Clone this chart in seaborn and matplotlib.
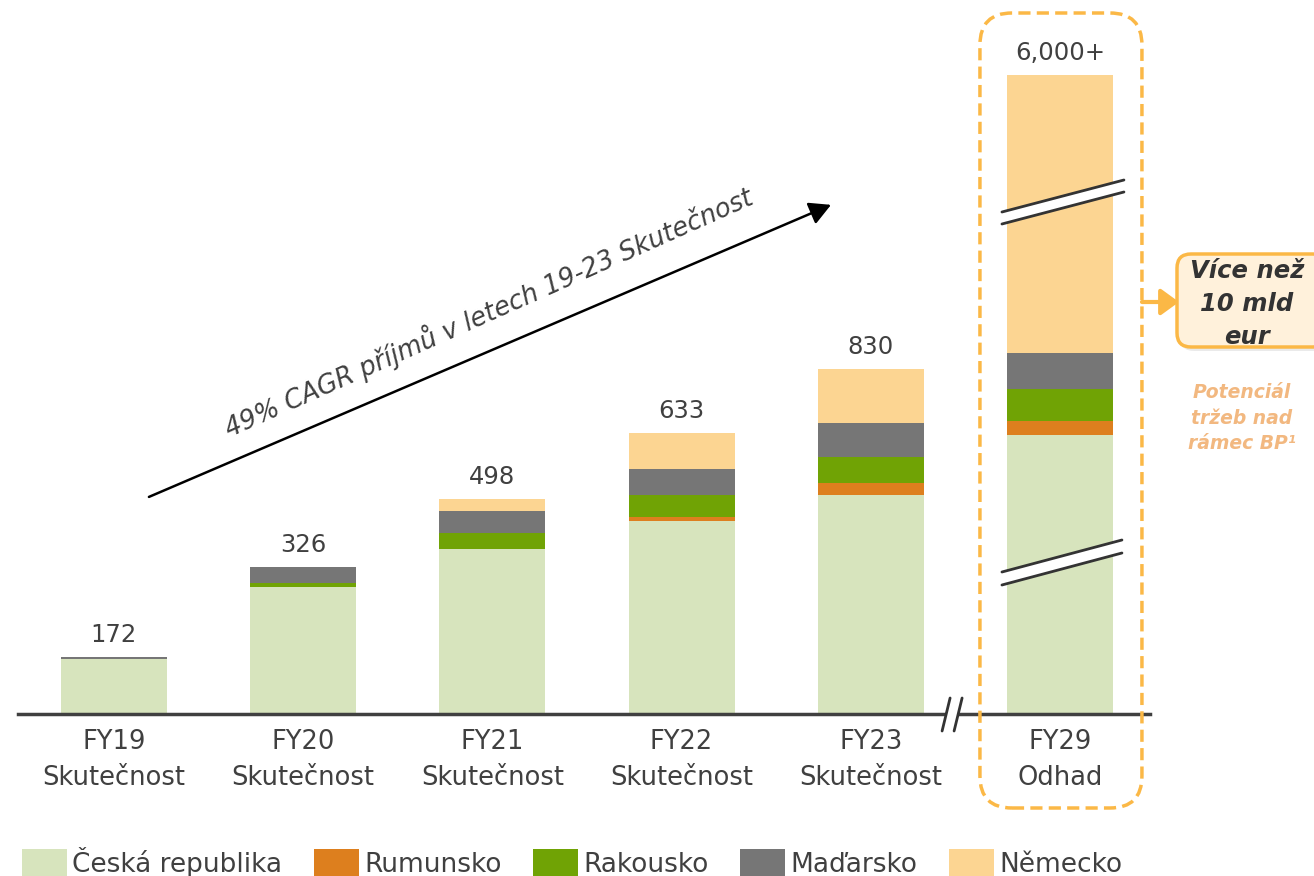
import matplotlib
matplotlib.use('Agg')
import matplotlib.pyplot as plt
import seaborn as sns
import pandas as pd
from matplotlib.patches import FancyBboxPatch, Polygon, Patch, FancyArrowPatch
from matplotlib.lines import Line2D
from matplotlib.transforms import IdentityTransform

# data (stack heights; FY29 sits on a broken axis)
years = ['FY19', 'FY20', 'FY21', 'FY22', 'FY23', 'FY29']
status = ['Skutečnost', 'Skutečnost', 'Skutečnost', 'Skutečnost', 'Skutečnost', 'Odhad']
totals_text = ['172', '326', '498', '633', '830', '6,000+']
regions = ['Česká republika', 'Rumunsko', 'Rakousko', 'Maďarsko', 'Německo']
cz = [132, 305, 396, 463, 526, 670]
ro = [0, 0, 0, 10, 29, 34]
at = [0, 10, 38, 53, 62, 77]
hu = [5, 38, 53, 62, 82, 86]
de = [0, 0, 29, 86, 130, 667]
colors = ['#D7E4BD', '#DD7F1E', '#70A305', '#767676', '#FCD592']

TXT = '#404040'
ORANGE = '#FBB846'
W, H = 1314, 876

sns.set_theme(style='white')
plt.rcParams['font.family'] = ['DejaVu Sans']

df = pd.DataFrame({'year': years, regions[0]: cz, regions[1]: ro,
                   regions[2]: at, regions[3]: hu, regions[4]: de})
cum = df[regions].cumsum(axis=1)
cum['year'] = df['year']

fig = plt.figure(figsize=(W / 100, H / 100), dpi=100)
ax = fig.add_axes([18 / W, 1 - 714 / H, 1132 / W, 714 / H])

# stacked bars: draw cumulative totals from the top layer down
for i in reversed(range(len(regions))):
    sns.barplot(data=cum, x='year', y=regions[i], order=years, color=colors[i],
                saturation=1, width=0.56, linewidth=0, errorbar=None, ax=ax)

ax.set_xlim(-0.507, 5.476)
ax.set_ylim(0, 1713.6)
sns.despine(ax=ax, left=True)
ax.spines['bottom'].set_color(TXT)
ax.spines['bottom'].set_linewidth(2.5)
ax.set_yticks([])
ax.set_xlabel('')
ax.set_ylabel('')
ax.set_xticks(range(len(years)))
ax.set_xticklabels([f'{y}\n{s}' for y, s in zip(years, status)],
                   fontsize=18.5, color=TXT, linespacing=1.5)
ax.tick_params(axis='x', length=0, pad=11)

# totals above bars
for i, t in enumerate(totals_text):
    ax.annotate(t, (i, cum[regions[-1]][i]), xytext=(0, 7), textcoords='offset points',
                ha='center', va='bottom', fontsize=17.5, color=TXT)

# CAGR arrow and label
ax.annotate('', xy=(3.79, 1222), xytext=(0.185, 521),
            arrowprops=dict(arrowstyle='-|>,head_length=0.65,head_width=0.35',
                            mutation_scale=20, color='black', lw=1.8,
                            shrinkA=0, shrinkB=0))
ax.text(1.98, 965, '49% CAGR příjmů v letech 19-23 Skutečnost', rotation=24,
        rotation_mode='anchor', ha='center', va='center', fontsize=18.5,
        style='italic', fontweight='light', color=TXT)

ident = IdentityTransform()


def px(x, y):
    # top-left pixel coordinates -> display coordinates
    return (x, H - y)


def add_break(p0, p1, gap):
    (x0, y0), (x1, y1) = p0, p1
    poly = Polygon([px(x0, y0), px(x1, y1), px(x1, y1 + gap), px(x0, y0 + gap)],
                   closed=True, fc='white', ec='none', transform=ident, zorder=3)
    fig.add_artist(poly)
    for dy in (0, gap):
        fig.add_artist(Line2D([x0, x1], [H - y0 - dy, H - y1 - dy], color='#333333',
                              lw=2, transform=ident, zorder=4))


cx = ax.transData.transform((5, 0))[0]
add_break((cx - 58, 212), (cx + 64, 180), 12)
add_break((cx - 58, 572), (cx + 62, 540), 13)

# axis break between FY23 and FY29
xb = ax.transData.transform((4.43, 0))[0]
fig.add_artist(Polygon([px(xb - 10, 731), px(xb - 2, 698), px(xb + 10, 698), px(xb + 2, 731)],
                       closed=True, fc='white', ec='none', transform=ident, zorder=3))
for dx in (-10, 2):
    fig.add_artist(Line2D([xb + dx, xb + dx + 8], [H - 731, H - 698], color='#333333',
                          lw=2, transform=ident, zorder=4))

# dashed highlight around FY29
fig.add_artist(FancyBboxPatch(px(cx - 80, 808), 162, 795,
                              boxstyle='round,pad=0,rounding_size=32', fill=False,
                              ec=ORANGE, lw=2.5, ls=(0, (3.5, 1.8)), transform=ident, zorder=5))

# callout
fig.add_artist(FancyArrowPatch(px(1142, 302), px(1179, 302),
                               arrowstyle='-|>,head_length=0.55,head_width=0.4',
                               mutation_scale=20, color=ORANGE, lw=3,
                               shrinkA=0, shrinkB=0, transform=ident, zorder=5))
fig.add_artist(FancyBboxPatch(px(1180, 351), 150, 93, boxstyle='round,pad=0,rounding_size=14',
                              fc='#BBBBBB', ec='none', alpha=0.3, transform=ident, zorder=5))
fig.add_artist(FancyBboxPatch(px(1177, 347), 150, 93, boxstyle='round,pad=0,rounding_size=14',
                              fc='#FFF1DB', ec=ORANGE, lw=2.5, transform=ident, zorder=6))
fig.text(1247 / W, 1 - 304 / H, 'Více než\n10 mld\neur', ha='center', va='center',
         fontsize=17.5, fontweight='bold', style='italic', color='#333333',
         linespacing=1.45, zorder=7)
fig.text(1242 / W, 1 - 418 / H, 'Potenciál\ntržeb nad\nrámec BP¹', ha='center', va='center',
         fontsize=13.5, fontweight='bold', style='italic', color='#F2B880',
         linespacing=1.45, zorder=7)

# legend
handles = [Patch(facecolor=c, edgecolor='none', label=r) for c, r in zip(colors, regions)]
fig.legend(handles=handles, loc='center left', bbox_to_anchor=(22 / W, 14 / H), ncol=5,
           frameon=False, fontsize=19, labelcolor=TXT, handlelength=1.7, handleheight=1.25,
           handletextpad=0.2, columnspacing=1.2, borderpad=0, borderaxespad=0)

fig.savefig('out.png', dpi=100)
